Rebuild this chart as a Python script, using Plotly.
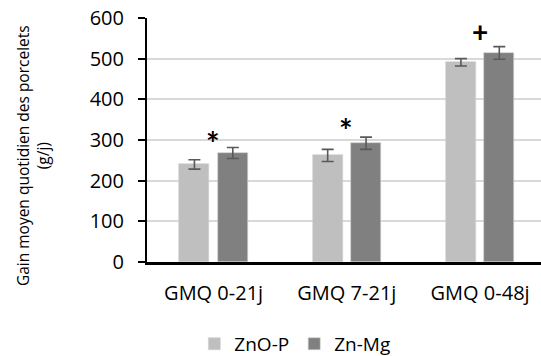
import plotly.graph_objects as go

categories = ["GMQ 0-21j", "GMQ 7-21j", "GMQ 0-48j"]
series_names = ["ZnO-P", "Zn-Mg"]
znop_values = [240, 262, 491]
znop_errors = [11.5, 15, 9]
znmg_values = [268, 292, 514]
znmg_errors = [13.5, 15, 15.5]
sig_marks = ["*", "*", "+"]
sig_levels = [310, 342, 561]
y_ticks = [0, 100, 200, 300, 400, 500, 600]

FONT = "Open Sans"
colors = ["#BFBFBF", "#808080"]
bar_w = 0.225
gap = 0.063

fig = go.Figure()
for name, vals, errs, col, off in [
    (series_names[0], znop_values, znop_errors, colors[0], -(bar_w + gap / 2)),
    (series_names[1], znmg_values, znmg_errors, colors[1], gap / 2),
]:
    fig.add_trace(go.Bar(
        x=categories, y=vals, name=name,
        width=bar_w, offset=off,
        marker=dict(color=col, line=dict(color="#D0D0D0", width=0.6)),
        error_y=dict(type="data", array=errs, visible=True,
                     color="#595959", thickness=1.6, width=6),
    ))

for i, m in enumerate(sig_marks):
    star = m == "*"
    fig.add_annotation(x=categories[i], y=sig_levels[i], xref="x", yref="y",
                       text="<b>%s</b>" % m, showarrow=False,
                       yanchor="bottom", xanchor="center",
                       xshift=-1 if star else 0,
                       yshift=-29 if star else -15.7,
                       font=dict(family="Lato", size=32 if star else 28, color="#000000"))

# y-axis title as annotation to control its position
fig.add_annotation(xref="paper", yref="paper", x=0, y=0.434,
                   xshift=-114, text="Gain moyen quotidien des porcelets<br>(g/j)",
                   textangle=-90, showarrow=False, xanchor="center", yanchor="middle",
                   font=dict(family=FONT, size=15.5, color="#000000"))

fig.update_layout(
    width=541, height=356,
    margin=dict(l=147, r=0, t=18, b=94, autoexpand=False),
    paper_bgcolor="white", plot_bgcolor="white",
    font=dict(family=FONT, color="#000000"),
    bargap=0, bargroupgap=0,
    showlegend=True,
    legend=dict(orientation="h", xref="container", yref="container",
                x=0.545, xanchor="center", y=0.034, yanchor="middle",
                font=dict(family=FONT, size=19, color="#000000"),
                traceorder="normal"),
    xaxis=dict(type="category", range=[-0.5, 2.457], showline=True,
               linecolor="#000000", linewidth=2.5, ticks="",
               tickfont=dict(family=FONT, size=20, color="#000000"),
               ticklabelstandoff=11,
               showgrid=False, zeroline=False, fixedrange=True,
               automargin=False),
    yaxis=dict(range=[0, 600], tickvals=y_ticks, showline=True,
               linecolor="#000000", linewidth=2, ticks="outside",
               ticklen=7, tickwidth=2, tickcolor="#000000",
               tickfont=dict(family=FONT, size=20, color="#000000"),
               ticklabelstandoff=10,
               showgrid=True, gridcolor="#D9D9D9", gridwidth=1.5,
               zeroline=False, automargin=False, fixedrange=True),
)

fig.write_html("out.html", config={"displayModeBar": False},
               post_script="document.body.style.margin='0';document.body.style.padding='0';")
